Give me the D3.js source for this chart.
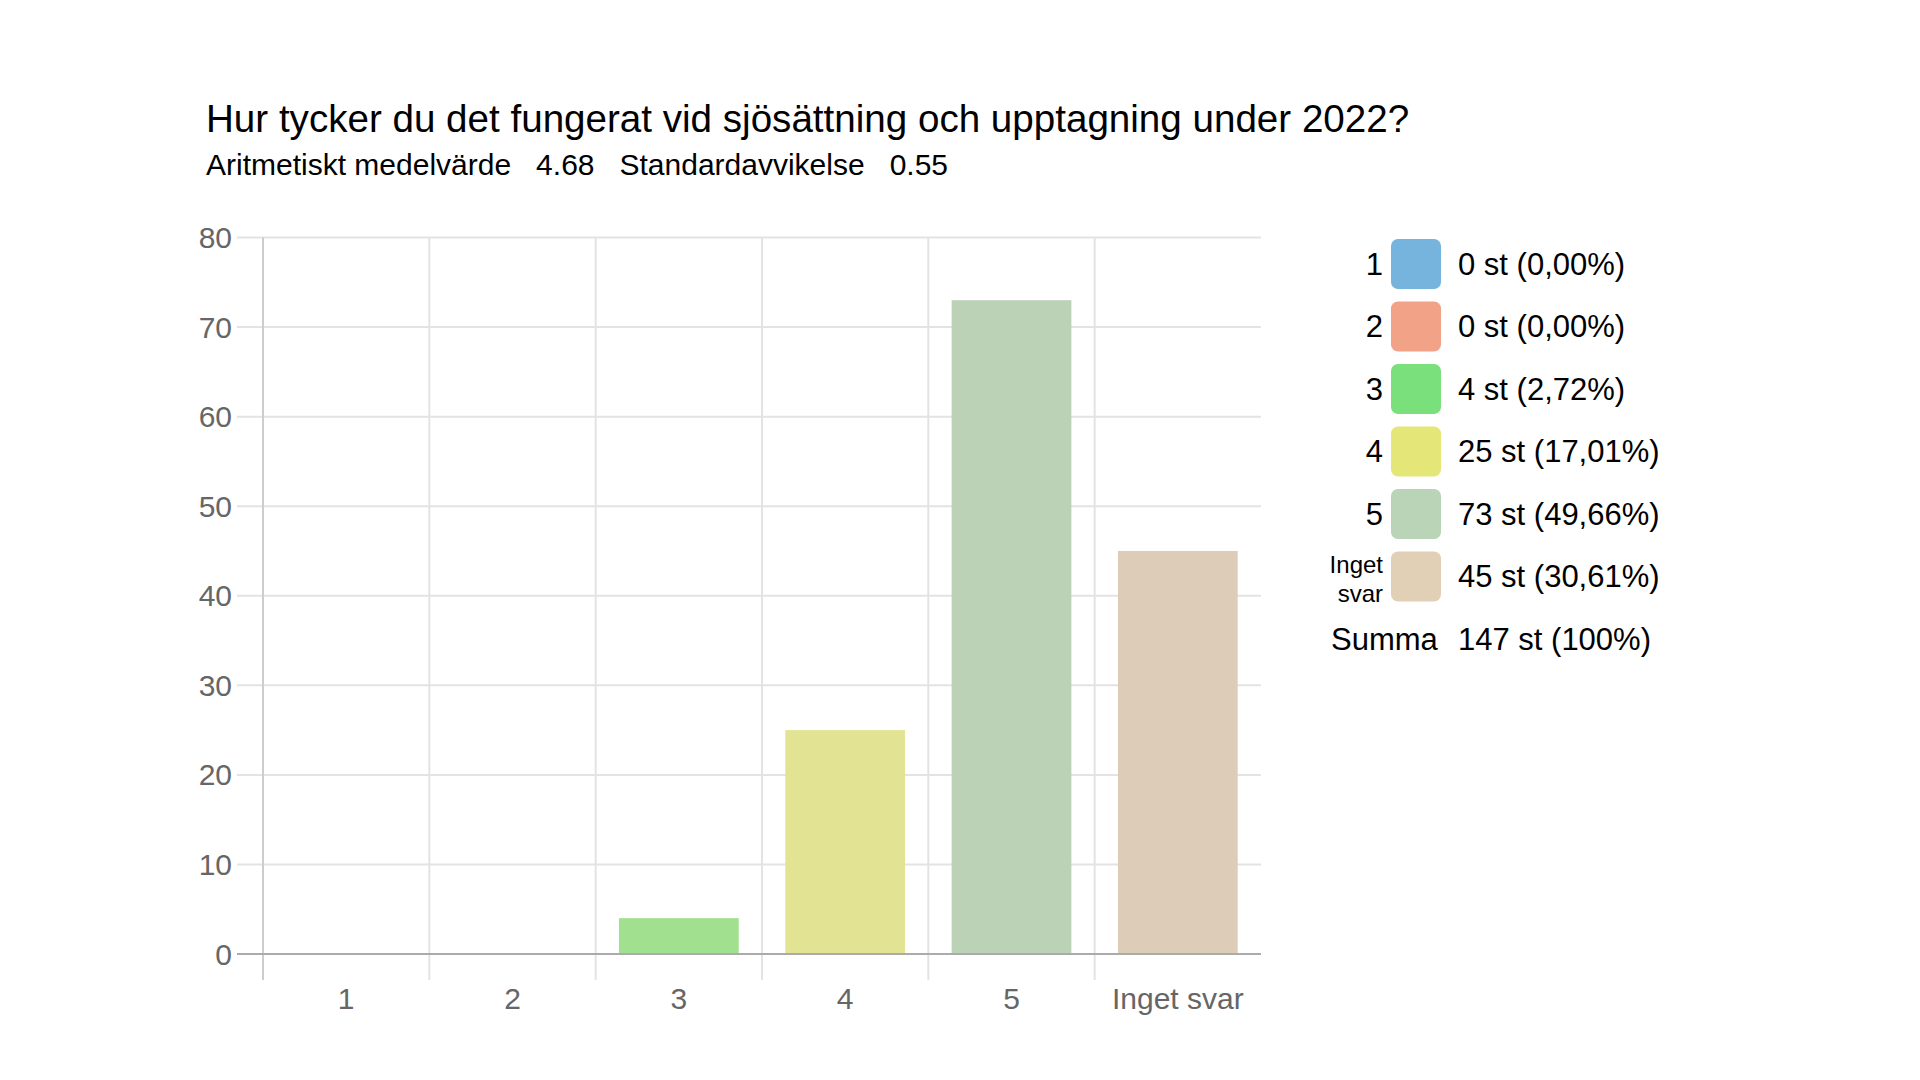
<!DOCTYPE html>
<html>
<head>
<meta charset="utf-8">
<script src="https://cdn.jsdelivr.net/npm/d3@7"></script>
<style>
  body { margin: 0; background: #fff; }
  svg { display: block; font-family: "Liberation Sans", Helvetica, Arial, sans-serif; }
</style>
</head>
<body>
<script>
// Survey data
var categories = ['1', '2', '3', '4', '5', 'Inget svar'];
var counts = [0, 0, 4, 25, 73, 45];
var percentLabels = ['0,00%', '0,00%', '2,72%', '17,01%', '49,66%', '30,61%'];
var yTicks = [0, 10, 20, 30, 40, 50, 60, 70, 80];
var swatchColors = ['#76b4de', '#f1a287', '#7ae07b', '#e5e678', '#b9d4b7', '#e1cfb6'];
var barColors = ['#9fc9e6', '#f3bba6', '#a0e08f', '#e2e494', '#bcd2b6', '#ddcdb8'];
var subtitleParts = ['Aritmetiskt medelvärde', '4.68', 'Standardavvikelse', '0.55'];
var titleText = 'Hur tycker du det fungerat vid sjösättning och upptagning under 2022?';
var totalLabel = '147 st (100%)';

var width = 1920, height = 1080;
var plot = {left: 263, right: 1261, top: 237.5, bottom: 954};

var svg = d3.select('body').append('svg')
    .attr('width', width)
    .attr('height', height);

// Title and subtitle
svg.append('text')
    .attr('x', 206)
    .attr('y', 132)
    .style('font-size', '38.6px')
    .style('fill', '#000')
    .text(titleText);

var sx = 206;
subtitleParts.forEach(function(p) {
  var t = svg.append('text')
      .attr('x', sx)
      .attr('y', 175)
      .style('font-size', '30px')
      .style('fill', '#000')
      .text(p);
  sx += t.node().getComputedTextLength() + 25;
});

// Scales
var x = d3.scaleBand()
    .domain(categories)
    .range([plot.left, plot.right])
    .paddingInner(0.28)
    .paddingOuter(0.14);

var y = d3.scaleLinear()
    .domain([0, 80])
    .range([plot.bottom, plot.top]);

var step = x.step();
var bandStart = function(c) { return x(c) - step * 0.14; };

// Horizontal gridlines
svg.append('g').selectAll('line')
    .data(yTicks.filter(function(d) { return d > 0; }))
  .enter().append('line')
    .attr('x1', plot.left - 26)
    .attr('x2', plot.right)
    .attr('y1', function(d) { return y(d); })
    .attr('y2', function(d) { return y(d); })
    .style('stroke', '#e3e3e3')
    .style('stroke-width', 2);

// Vertical gridlines (band boundaries)
var boundaries = categories.slice(1).map(bandStart);
svg.append('g').selectAll('line')
    .data(boundaries)
  .enter().append('line')
    .attr('x1', function(d) { return d; })
    .attr('x2', function(d) { return d; })
    .attr('y1', plot.top)
    .attr('y2', plot.bottom + 26)
    .style('stroke', '#e3e3e3')
    .style('stroke-width', 2);

// Y axis line
svg.append('line')
    .attr('x1', plot.left).attr('x2', plot.left)
    .attr('y1', plot.top).attr('y2', plot.bottom + 26)
    .style('stroke', '#cdcdcd')
    .style('stroke-width', 2);

// Bars
svg.append('g').selectAll('rect')
    .data(counts)
  .enter().append('rect')
    .attr('x', function(d, i) { return x(categories[i]); })
    .attr('width', x.bandwidth())
    .attr('y', function(d) { return y(d); })
    .attr('height', function(d) { return y(0) - y(d); })
    .style('fill', function(d, i) { return barColors[i]; });

// Zero line
svg.append('line')
    .attr('x1', plot.left - 26).attr('x2', plot.right)
    .attr('y1', y(0)).attr('y2', y(0))
    .style('stroke', '#ababab')
    .style('stroke-width', 2);

// Y tick labels
svg.append('g').selectAll('text')
    .data(yTicks)
  .enter().append('text')
    .attr('x', plot.left - 31)
    .attr('y', function(d) { return y(d); })
    .attr('dy', '0.35em')
    .attr('text-anchor', 'end')
    .style('font-size', '30px')
    .style('fill', '#666')
    .text(function(d) { return d; });

// X tick labels
svg.append('g').selectAll('text')
    .data(categories)
  .enter().append('text')
    .attr('x', function(d) { return x(d) + x.bandwidth() / 2; })
    .attr('y', 1009)
    .attr('text-anchor', 'middle')
    .style('font-size', '30px')
    .style('fill', '#666')
    .text(function(d) { return d; });

// Legend
var legend = {swatchX: 1391, top: 239, pitch: 62.5, size: 50, labelX: 1383, valueX: 1458};
var rows = svg.append('g').selectAll('g')
    .data(categories)
  .enter().append('g')
    .attr('transform', function(d, i) { return 'translate(0,' + (legend.top + i * legend.pitch) + ')'; });

rows.append('rect')
    .attr('x', legend.swatchX)
    .attr('width', legend.size)
    .attr('height', legend.size)
    .attr('rx', 7)
    .style('fill', function(d, i) { return swatchColors[i]; });

rows.each(function(d) {
  var g = d3.select(this);
  var words = d.split(' ');
  if(words.length > 1) {
    g.append('text')
        .attr('x', legend.labelX)
        .attr('text-anchor', 'end')
        .style('font-size', '24px')
        .style('fill', '#000')
      .selectAll('tspan')
        .data(words)
      .enter().append('tspan')
        .attr('x', legend.labelX)
        .attr('y', function(w, j) { return 21.5 + j * 29; })
        .text(function(w) { return w; });
  } else {
    g.append('text')
        .attr('x', legend.labelX)
        .attr('y', legend.size / 2)
        .attr('dy', '0.35em')
        .attr('text-anchor', 'end')
        .style('font-size', '31px')
        .style('fill', '#000')
        .text(d);
  }
});

rows.append('text')
    .attr('x', legend.valueX)
    .attr('y', legend.size / 2)
    .attr('dy', '0.35em')
    .style('font-size', '31px')
    .style('fill', '#000')
    .text(function(d, i) { return counts[i] + ' st (' + percentLabels[i] + ')'; });

var sumY = legend.top + categories.length * legend.pitch + legend.size / 2;
svg.append('text')
    .attr('x', 1331)
    .attr('y', sumY)
    .attr('dy', '0.35em')
    .style('font-size', '31px')
    .style('fill', '#000')
    .text('Summa');
svg.append('text')
    .attr('x', legend.valueX)
    .attr('y', sumY)
    .attr('dy', '0.35em')
    .style('font-size', '31px')
    .style('fill', '#000')
    .text(totalLabel);
</script>
</body>
</html>
